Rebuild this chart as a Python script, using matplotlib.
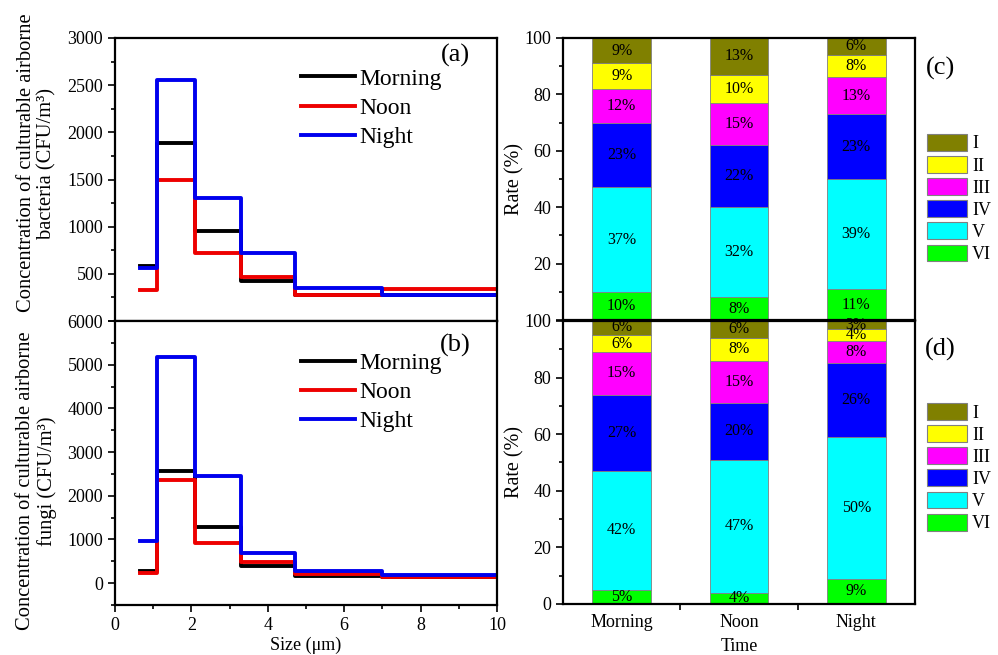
import matplotlib
matplotlib.use("Agg")
import matplotlib.pyplot as plt
import numpy as np
from matplotlib.patches import Patch
from matplotlib.ticker import MultipleLocator

plt.rcParams['font.family'] = ['Liberation Serif', 'DejaVu Serif']
plt.rcParams['font.size'] = 13

# Andersen stage cut sizes (um)
edges = [0.65, 1.1, 2.1, 3.3, 4.7, 7.0, 10.0]
times = ["Morning", "Noon", "Night"]
line_colors = ["black", "#ee0000", "#0000ee"]

# bacteria concentration per stage (CFU/m3), stage VI -> I
bact_morning = [580, 1890, 950, 420, 280, 280]
bact_noon = [330, 1490, 720, 470, 280, 340]
bact_night = [560, 2560, 1300, 720, 350, 280]

# fungi concentration per stage (CFU/m3)
fungi_morning = [280, 2570, 1290, 400, 170, 150]
fungi_noon = [230, 2370, 930, 480, 220, 150]
fungi_night = [960, 5170, 2460, 680, 290, 180]

stages = ["VI", "V", "IV", "III", "II", "I"]
stage_colors = ["#00ff00", "#00ffff", "#0000ff", "#ff00ff", "#ffff00", "#808000"]

# rate (%) per stage, rows = stage VI..I, columns = Morning, Noon, Night
bact_rate = [[10, 8, 11],
             [37, 32, 39],
             [23, 22, 23],
             [12, 15, 13],
             [9, 10, 8],
             [9, 13, 6]]
fungi_rate = [[5, 4, 9],
              [42, 47, 50],
              [27, 20, 26],
              [15, 15, 8],
              [6, 8, 4],
              [6, 6, 3]]

fig = plt.figure(figsize=(9.98, 6.55), dpi=100)
ax_a = fig.add_axes([0.1152, 0.5099, 0.3828, 0.4321])
ax_b = fig.add_axes([0.1152, 0.0763, 0.3828, 0.4336])
ax_c = fig.add_axes([0.5641, 0.5114, 0.3527, 0.4306])
ax_d = fig.add_axes([0.5641, 0.0779, 0.3527, 0.4321])


def style_ticks(ax):
    ax.tick_params(which='both', direction='out', right=False, top=False, width=1.2)
    ax.tick_params(which='major', length=5)
    ax.tick_params(which='minor', length=3)
    for s in ax.spines.values():
        s.set_linewidth(1.6)


def step_panel(ax, series, ymax, ystep, ylim_low, tag, tag_y, legend_y):
    for vals, name, c in zip(series, times, line_colors):
        ax.step(edges, np.append(vals, vals[-1]), where='post', color=c, lw=2.8, label=name)
    ax.set_xlim(0, 10)
    ax.set_ylim(ylim_low, ymax)
    ax.yaxis.set_major_locator(MultipleLocator(ystep))
    ax.yaxis.set_minor_locator(MultipleLocator(ystep / 2))
    ax.xaxis.set_major_locator(MultipleLocator(2))
    ax.xaxis.set_minor_locator(MultipleLocator(1))
    ax.legend(loc='upper left', bbox_to_anchor=(0.455, legend_y), frameon=False, fontsize=17,
              handlelength=2.3, handletextpad=0.2, labelspacing=0.32, borderpad=0)
    ax.text(0.89, tag_y, tag, transform=ax.transAxes, ha='center', va='center', fontsize=19)
    style_ticks(ax)


step_panel(ax_a, [bact_morning, bact_noon, bact_night], 3000, 500, 0, "(a)", 0.94, 0.935)
step_panel(ax_b, [fungi_morning, fungi_noon, fungi_night], 6000, 1000, -500, "(b)", 0.915, 0.93)

ax_a.tick_params(axis='x', which='both', labelbottom=False)
ax_a.set_yticks(np.arange(0, 3001, 500))
ax_a.set_yticklabels([""] + [str(v) for v in range(500, 3001, 500)])
ax_b.set_xlabel("Size (μm)", labelpad=2)

ax_a.set_ylabel("Concentration of culturable airborne\nbacteria (CFU/m³)", fontsize=14.8, linespacing=1.15)
ax_b.set_ylabel("Concentration of culturable airborne\nfungi (CFU/m³)", fontsize=14.8, linespacing=1.15)
ax_a.yaxis.set_label_coords(-0.152, 0.558)
ax_b.yaxis.set_label_coords(-0.152, 0.437)


def bar_panel(ax, rates, tag, tag_y, leg_y):
    x = np.arange(len(times))
    bottom = np.zeros(len(times))
    for vals, name, c in zip(rates, stages, stage_colors):
        vals = np.array(vals, dtype=float)
        ax.bar(x, vals, 0.5, bottom=bottom, color=c, edgecolor='#808080', linewidth=0.6, label=name)
        for xi, v, b in zip(x, vals, bottom):
            ax.text(xi, b + v / 2, f"{int(v)}%", ha='center', va='center', fontsize=11.5, clip_on=False)
        bottom += vals
    ax.set_xlim(-0.5, 2.5)
    ax.set_ylim(0, 100)
    ax.yaxis.set_major_locator(MultipleLocator(20))
    ax.yaxis.set_minor_locator(MultipleLocator(10))
    ax.set_xticks(x)
    ax.set_xticks([0.5, 1.5], minor=True)
    ax.set_ylabel("Rate (%)", fontsize=14.5)
    ax.yaxis.set_label_coords(-0.108, 0.5)
    handles = [Patch(facecolor=c, edgecolor='#808080', linewidth=0.8, label=n)
               for n, c in zip(stages, stage_colors)][::-1]
    ax.legend(handles=handles, loc='upper left', bbox_to_anchor=(1.034, leg_y), frameon=False,
              fontsize=13, handlelength=2.2, handleheight=1.05, handletextpad=0.3,
              labelspacing=0.2, borderpad=0, borderaxespad=0)
    fig.text(0.942, tag_y, tag, ha='center', va='center', fontsize=19)
    style_ticks(ax)
    ax.tick_params(axis='x', which='major', length=0)
    ax.tick_params(axis='x', which='minor', length=4)


bar_panel(ax_c, bact_rate, "(c)", 0.896, 0.66)
bar_panel(ax_d, fungi_rate, "(d)", 0.466, 0.71)

ax_c.tick_params(axis='x', which='both', labelbottom=False)
ax_c.set_yticks(np.arange(0, 101, 20))
ax_c.set_yticklabels([""] + [str(v) for v in range(20, 101, 20)])
ax_d.tick_params(axis='x', which='major', pad=7)
ax_d.set_xticklabels(times)
ax_d.set_xlabel("Time", labelpad=5)

fig.savefig("out.png", dpi=100)
